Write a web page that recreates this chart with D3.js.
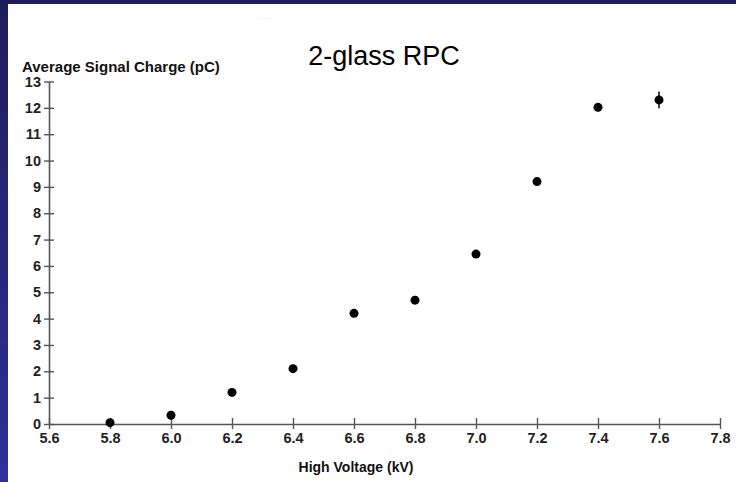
<!DOCTYPE html>
<html>
<head>
<meta charset="utf-8">
<script src="https://cdn.jsdelivr.net/npm/d3@7"></script>
<style>
  html, body { margin: 0; padding: 0; background: #fff; }
  svg { display: block; }
</style>
</head>
<body>
<div id="chart"></div>
<script>
"use strict";

const voltages = [5.8, 6.0, 6.2, 6.4, 6.6, 6.8, 7.0, 7.2, 7.4, 7.6];
const charges = [0.05, 0.33, 1.2, 2.1, 4.2, 4.7, 6.45, 9.2, 12.02, 12.3];
const errors = [0, 0, 0, 0, 0, 0, 0, 0.05, 0.15, 0.32];
const xTicks = [5.6, 5.8, 6.0, 6.2, 6.4, 6.6, 6.8, 7.0, 7.2, 7.4, 7.6, 7.8];
const yTicks = [0, 1, 2, 3, 4, 5, 6, 7, 8, 9, 10, 11, 12, 13];

const W = 736, H = 482;
const font = "'Liberation Sans', Arial, sans-serif";

const svg = d3.select("#chart").append("svg")
  .attr("width", W).attr("height", H);

// slide border: dark navy top strip and left strip with gradient
const grad = svg.append("defs").append("linearGradient")
  .attr("id", "side").attr("x1", 0).attr("y1", 0).attr("x2", 0).attr("y2", 1);
grad.append("stop").attr("offset", "0%").attr("stop-color", "#1e1d5c");
grad.append("stop").attr("offset", "100%").attr("stop-color", "#2f2f98");

svg.append("rect").attr("x", 0).attr("y", 0).attr("width", 8).attr("height", H)
  .attr("fill", "url(#side)");
svg.append("rect").attr("x", 0).attr("y", 0).attr("width", W).attr("height", 4)
  .attr("fill", "#1e1d5c");

const x = d3.scaleLinear().domain([5.6, 7.8]).range([49, 720]);
const y = d3.scaleLinear().domain([0, 13]).range([424, 81.5]);

// faint leftover text at the top
svg.append("text")
  .attr("x", 265).attr("y", 20)
  .attr("text-anchor", "middle")
  .attr("font-family", font).attr("font-size", 8)
  .attr("fill", "#ececec")
  .text("-- -----");

// y axis
const yAxis = svg.append("g")
  .attr("transform", `translate(${x(5.6)},0)`)
  .call(d3.axisLeft(y).tickValues(yTicks).tickSize(5).tickSizeOuter(0).tickFormat(d3.format("d")));
yAxis.select(".domain").attr("stroke", "#555").attr("stroke-width", 1.6);
yAxis.selectAll(".tick line").attr("x1", 5).attr("x2", -5)
  .attr("stroke", "#555").attr("stroke-width", 1.4);
yAxis.selectAll(".tick text")
  .attr("x", -8)
  .attr("font-family", font).attr("font-size", 14.5).attr("font-weight", "bold")
  .attr("fill", "#222");

// x axis
const xAxis = svg.append("g")
  .attr("transform", `translate(0,${y(0)})`)
  .call(d3.axisBottom(x).tickValues(xTicks).tickSize(6).tickSizeOuter(0).tickFormat(d3.format(".1f")));
xAxis.select(".domain").attr("stroke", "#555").attr("stroke-width", 1.6);
xAxis.selectAll(".tick line").attr("y1", -6).attr("y2", 5)
  .attr("stroke", "#555").attr("stroke-width", 1.4);
xAxis.selectAll(".tick text")
  .attr("y", 9)
  .attr("font-family", font).attr("font-size", 14.5).attr("font-weight", "bold")
  .attr("fill", "#222");

// axis titles
svg.append("text")
  .attr("x", 22).attr("y", 72)
  .attr("font-family", font).attr("font-size", 15).attr("font-weight", "bold")
  .attr("fill", "#111")
  .text("Average Signal Charge (pC)");

svg.append("text")
  .attr("x", 356).attr("y", 472)
  .attr("text-anchor", "middle")
  .attr("font-family", font).attr("font-size", 14).attr("font-weight", "bold")
  .attr("fill", "#111")
  .text("High Voltage (kV)");

// chart title
svg.append("text")
  .attr("x", 384).attr("y", 65)
  .attr("text-anchor", "middle")
  .attr("font-family", font).attr("font-size", 27)
  .attr("fill", "#000")
  .text("2-glass RPC");

// points with error bars
const pts = voltages.map((v, i) => ({ v: v, c: charges[i], e: errors[i] }));

svg.append("g").selectAll("line")
  .data(pts.filter((d) => d.e > 0))
  .enter().append("line")
  .attr("x1", (d) => x(d.v)).attr("x2", (d) => x(d.v))
  .attr("y1", (d) => y(d.c + d.e)).attr("y2", (d) => y(d.c - d.e))
  .attr("stroke", "#000").attr("stroke-width", 1.5);

svg.append("g").selectAll("circle")
  .data(pts)
  .enter().append("circle")
  .attr("cx", (d) => x(d.v))
  .attr("cy", (d) => y(d.c))
  .attr("r", 4.5)
  .attr("fill", "#000");
</script>
</body>
</html>
